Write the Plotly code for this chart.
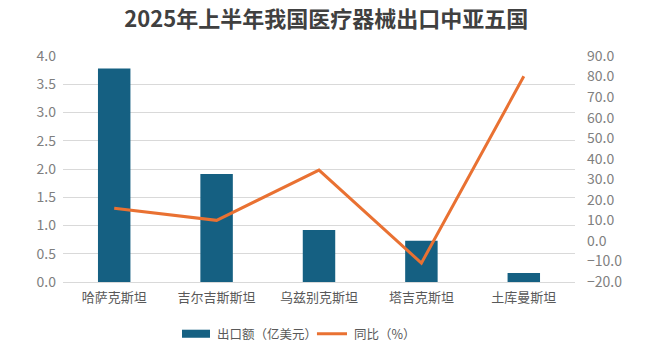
import plotly.graph_objects as go

categories = ["哈萨克斯坦", "吉尔吉斯斯坦", "乌兹别克斯坦", "塔吉克斯坦", "土库曼斯坦"]
export_values = [3.78, 1.91, 0.92, 0.73, 0.16]
yoy_values = [15.9, 10.0, 34.5, -10.8, 80.1]
bar_name = "出口额（亿美元）"
line_name = "同比（%）"

FONT = "Noto Sans CJK SC, Noto Sans, sans-serif"
BAR_COLOR = "#156082"
LINE_COLOR = "#E97132"
TEXT = "#595959"

fig = go.Figure()
fig.add_trace(go.Bar(
    x=categories, y=export_values, name=bar_name,
    marker=dict(color=BAR_COLOR, line=dict(width=0)),
    yaxis="y", showlegend=False,
))
fig.add_trace(go.Scatter(
    x=categories, y=yoy_values, name=line_name, mode="lines",
    line=dict(color=LINE_COLOR, width=3),
    yaxis="y2", showlegend=False,
))

# custom legend (wide bar swatch like the reference)
fig.add_shape(type="rect", xref="paper", yref="paper",
              x0=0.2324, x1=0.2871, y0=-0.2467, y1=-0.2111,
              fillcolor=BAR_COLOR, line=dict(width=0))
fig.add_shape(type="line", xref="paper", yref="paper",
              x0=0.496, x1=0.5547, y0=-0.229, y1=-0.229,
              line=dict(color=LINE_COLOR, width=3))
fig.add_annotation(text=bar_name, xref="paper", yref="paper", x=0.2969, y=-0.229,
                   xanchor="left", yanchor="middle", showarrow=False,
                   font=dict(family=FONT, size=12.5, color=TEXT))
fig.add_annotation(text=line_name, xref="paper", yref="paper", x=0.5645, y=-0.229,
                   xanchor="left", yanchor="middle", showarrow=False,
                   font=dict(family=FONT, size=12.5, color=TEXT))

fig.update_layout(
    width=655, height=360,
    paper_bgcolor="white", plot_bgcolor="white",
    margin=dict(l=63, r=80, t=56, b=78),
    font=dict(family=FONT, color=TEXT),
    title=dict(text="<b>2025年上半年我国医疗器械出口中亚五国</b>", x=0.498, xanchor="center",
               y=0.947, yanchor="middle",
               font=dict(family=FONT, size=22, color="#404040")),
    bargap=0.683,
    showlegend=False,
    xaxis=dict(showgrid=False, showline=True, linecolor="#d9d9d9", linewidth=1,
               tickfont=dict(family=FONT, size=13, color=TEXT), ticks="",
               ticklabelstandoff=3),
    yaxis=dict(range=[0, 4], dtick=0.5, tickformat=".1f", showgrid=True,
               gridcolor="#d9d9d9", gridwidth=1, zeroline=False, showline=False,
               tickfont=dict(family=FONT, size=14, color="#7f7f7f"), ticks="",
               ticklabelstandoff=6),
    yaxis2=dict(range=[-20, 90], dtick=10, tickformat=".1f", overlaying="y", side="right",
                showgrid=False, zeroline=False, showline=False,
                tickfont=dict(family=FONT, size=14, color="#7f7f7f"), ticks="",
                ticklabelstandoff=11),
)

fig.write_html("out.html", config={"displayModeBar": False},
               post_script="document.body.style.margin='0';")
